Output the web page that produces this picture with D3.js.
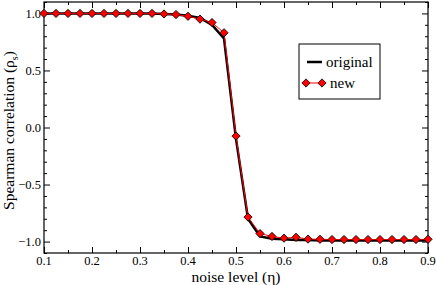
<!DOCTYPE html>
<html>
<head>
<meta charset="utf-8">
<script src="https://cdn.jsdelivr.net/npm/d3@7"></script>
<style>
  body { margin: 0; background: #fff; }
</style>
</head>
<body>
<div id="chart"></div>
<script>
// noise levels (eta)
const noiseLevels = [0.1, 0.125, 0.15, 0.175, 0.2, 0.225, 0.25, 0.275, 0.3, 0.325, 0.35, 0.375,
  0.4, 0.425, 0.45, 0.475, 0.5, 0.525, 0.55, 0.575, 0.6, 0.625, 0.65, 0.675, 0.7, 0.725,
  0.75, 0.775, 0.8, 0.825, 0.85, 0.875, 0.9];
const originalValues = [1.0, 1.0, 1.0, 1.0, 1.0, 1.0, 1.0, 1.0, 1.0, 1.0, 0.995, 0.99,
  0.98, 0.96, 0.9, 0.78, -0.1, -0.8, -0.955, -0.975, -0.98, -0.985, -0.985, -0.99, -0.99, -0.99,
  -0.99, -0.99, -0.99, -0.99, -0.99, -0.99, -0.99];
const newValues = [1.0, 1.0, 1.0, 1.0, 1.0, 1.0, 1.0, 1.0, 1.0, 1.0, 0.995, 0.99,
  0.975, 0.95, 0.92, 0.83, -0.075, -0.785, -0.93, -0.955, -0.97, -0.962, -0.978, -0.98, -0.982, -0.982,
  -0.982, -0.982, -0.982, -0.982, -0.982, -0.982, -0.98];
const xTicks = [0.1, 0.2, 0.3, 0.4, 0.5, 0.6, 0.7, 0.8, 0.9];
const yTicks = [-1.0, -0.5, 0.0, 0.5, 1.0];

const width = 436, height = 285;
const margin = { top: 2, right: 8, bottom: 32, left: 44 };
const FONT = "'Liberation Serif', 'Times New Roman', serif";

const svg = d3.select("#chart").append("svg")
  .attr("width", width)
  .attr("height", height);

const x = d3.scaleLinear().domain([0.1, 0.9]).range([margin.left, width - margin.right]);
const y = d3.scaleLinear().domain([-1.1, 1.1]).range([height - margin.bottom, margin.top]);

const plotW = width - margin.left - margin.right;
const plotH = height - margin.top - margin.bottom;

// minor tick values
const xMinor = d3.range(0.15, 0.9, 0.1).map(v => +v.toFixed(3));
const yMinor = d3.range(-1.1, 1.1001, 0.1).map(v => +v.toFixed(2)).filter(v => Math.abs(v * 2 - Math.round(v * 2)) > 0.01);

function tickAxis(axisFn, scale, values, size, transform) {
  const g = svg.append("g")
    .attr("transform", transform)
    .call(axisFn(scale).tickValues(values).tickSize(size).tickSizeOuter(0).tickFormat(""));
  g.select(".domain").remove();
  g.selectAll(".tick line").attr("stroke", "#000");
  return g;
}

// inward ticks on all four sides
tickAxis(d3.axisTop, x, xTicks, 6, `translate(0,${height - margin.bottom})`);
tickAxis(d3.axisTop, x, xMinor, 3, `translate(0,${height - margin.bottom})`);
tickAxis(d3.axisBottom, x, xTicks, 6, `translate(0,${margin.top})`);
tickAxis(d3.axisBottom, x, xMinor, 3, `translate(0,${margin.top})`);
tickAxis(d3.axisRight, y, yTicks, 6, `translate(${margin.left},0)`);
tickAxis(d3.axisRight, y, yMinor, 3, `translate(${margin.left},0)`);
tickAxis(d3.axisLeft, y, yTicks, 6, `translate(${width - margin.right},0)`);
tickAxis(d3.axisLeft, y, yMinor, 3, `translate(${width - margin.right},0)`);

// tick labels
svg.append("g").selectAll("text")
  .data(xTicks).join("text")
  .attr("x", d => x(d))
  .attr("y", height - margin.bottom + 12)
  .attr("text-anchor", "middle")
  .style("font-family", FONT).style("font-size", "12.5px")
  .text(d => d3.format(".1f")(d));

svg.append("g").selectAll("text")
  .data(yTicks).join("text")
  .attr("x", margin.left - 3)
  .attr("y", d => y(d))
  .attr("dy", "0.35em")
  .attr("text-anchor", "end")
  .style("font-family", FONT).style("font-size", "12.5px")
  .text(d => d3.format(".1f")(d));

// frame
svg.append("rect")
  .attr("x", margin.left).attr("y", margin.top)
  .attr("width", plotW).attr("height", plotH)
  .attr("fill", "none").attr("stroke", "#000").attr("stroke-width", 1.2);

// axis titles
svg.append("text")
  .attr("x", (margin.left + width - margin.right) / 2)
  .attr("y", height - 3)
  .attr("text-anchor", "middle")
  .style("font-family", FONT).style("font-size", "15.5px")
  .text("noise level (η)");

const yt = svg.append("text")
  .attr("transform", `translate(14,${y(0) + 3}) rotate(-90)`)
  .attr("text-anchor", "middle")
  .style("font-family", FONT).style("font-size", "15.5px");
yt.append("tspan").text("Spearman correlation (ρ");
yt.append("tspan").style("font-size", "10px").attr("dy", 4).text("s");
yt.append("tspan").attr("dy", -4).text(")");

// lines
const origData = noiseLevels.map((d, i) => [d, originalValues[i]]);
const newData = noiseLevels.map((d, i) => [d, newValues[i]]);
const line = d3.line().x(d => x(d[0])).y(d => y(d[1]));

svg.append("path")
  .attr("d", line(origData))
  .attr("fill", "none").attr("stroke", "#000").attr("stroke-width", 2.5);

svg.append("path")
  .attr("d", line(newData))
  .attr("fill", "none").attr("stroke", "#ff0000").attr("stroke-width", 1);

const diamond = d3.symbol().type(d3.symbolSquare).size(34);
svg.append("g").selectAll("path")
  .data(newData).join("path")
  .attr("d", diamond)
  .attr("transform", d => `translate(${x(d[0])},${y(d[1])}) rotate(45)`)
  .attr("fill", "#ff0000").attr("stroke", "#000").attr("stroke-width", 0.8);

// legend
const lg = svg.append("g").attr("transform", "translate(299,44)");
lg.append("rect").attr("width", 81).attr("height", 55)
  .attr("fill", "#fff").attr("stroke", "#000").attr("stroke-width", 1);
lg.append("line").attr("x1", 8).attr("x2", 23).attr("y1", 18).attr("y2", 18)
  .attr("stroke", "#000").attr("stroke-width", 2.5);
lg.append("text").attr("x", 27).attr("y", 18).attr("dy", "0.35em")
  .style("font-family", FONT).style("font-size", "15px").text("original");
lg.append("line").attr("x1", 7).attr("x2", 23).attr("y1", 39).attr("y2", 39)
  .attr("stroke", "#ff0000").attr("stroke-width", 1);
lg.selectAll("path.m").data([7, 23]).join("path").attr("class", "m")
  .attr("d", diamond)
  .attr("transform", d => `translate(${d},39) rotate(45)`)
  .attr("fill", "#ff0000").attr("stroke", "#000").attr("stroke-width", 0.8);
lg.append("text").attr("x", 31).attr("y", 39).attr("dy", "0.35em")
  .style("font-family", FONT).style("font-size", "15px").text("new");
</script>
</body>
</html>
